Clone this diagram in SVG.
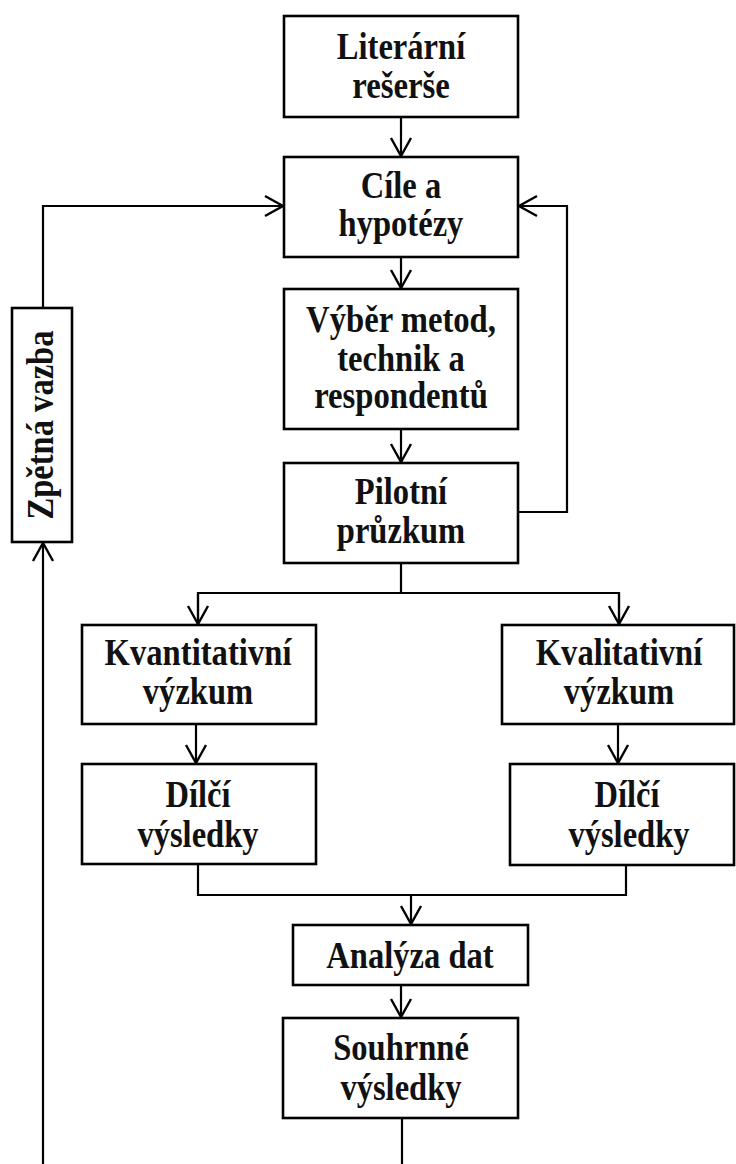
<svg xmlns="http://www.w3.org/2000/svg" width="736" height="1164" viewBox="0 0 736 1164">
<style>
.box{fill:#fff;stroke:#000;stroke-width:2.6}
.ln{fill:none;stroke:#000;stroke-width:2.2}
.t{font-family:"Liberation Serif","Times New Roman",serif;font-weight:bold;font-size:37px;text-anchor:middle;fill:#111}
</style>
<defs>
<marker id="ah" markerUnits="userSpaceOnUse" markerWidth="24" markerHeight="24" viewBox="-20 -12 24 24" refX="0" refY="0" orient="auto">
<path d="M-18,-10 L0,0 L-18,10" fill="none" stroke="#000" stroke-width="2.4"/>
</marker>
</defs>
<rect width="736" height="1164" fill="#fff"/>
<g id="connectors">
<line class="ln" x1="401" y1="117" x2="401" y2="156" marker-end="url(#ah)"/>
<line class="ln" x1="401" y1="257" x2="401" y2="288" marker-end="url(#ah)"/>
<line class="ln" x1="401" y1="429" x2="401" y2="462" marker-end="url(#ah)"/>
<polyline class="ln" points="43,308 43,206 283,206" marker-end="url(#ah)"/>
<polyline class="ln" points="518,512 567,512 567,206 519,206" marker-end="url(#ah)"/>
<polyline class="ln" points="401,563 401,593"/>
<polyline class="ln" points="198,624 198,593 619,593 619,624"/>
<line class="ln" x1="198" y1="593" x2="198" y2="624" marker-end="url(#ah)"/>
<line class="ln" x1="619" y1="593" x2="619" y2="624" marker-end="url(#ah)"/>
<line class="ln" x1="196" y1="724" x2="196" y2="763" marker-end="url(#ah)"/>
<line class="ln" x1="618" y1="724" x2="618" y2="763" marker-end="url(#ah)"/>
<polyline class="ln" points="198,864 198,895 626,895 626,865"/>
<line class="ln" x1="411" y1="895" x2="411" y2="924" stroke-width="2.6" marker-end="url(#ah)"/>
<line class="ln" x1="401" y1="985" x2="401" y2="1017" marker-end="url(#ah)"/>
<line class="ln" x1="402" y1="1118" x2="402" y2="1164"/>
<line class="ln" x1="43" y1="1164" x2="43" y2="543" marker-end="url(#ah)"/>
</g>
<g id="n-literarni">
<rect class="box" x="284" y="16" width="234" height="101"/>
<text class="t" x="401" y="59" textLength="128.4" lengthAdjust="spacingAndGlyphs">Literární</text>
<text class="t" x="401" y="98" textLength="97.6" lengthAdjust="spacingAndGlyphs">rešerše</text>
</g>
<g id="n-cile">
<rect class="box" x="284" y="157" width="234" height="100"/>
<text class="t" x="401" y="198" textLength="80.5" lengthAdjust="spacingAndGlyphs">Cíle a</text>
<text class="t" x="401" y="236" textLength="124.8" lengthAdjust="spacingAndGlyphs">hypotézy</text>
</g>
<g id="n-vyber">
<rect class="box" x="284" y="289" width="234" height="140"/>
<text class="t" x="401" y="332" textLength="189.9" lengthAdjust="spacingAndGlyphs">Výběr metod,</text>
<text class="t" x="401" y="371" textLength="127.5" lengthAdjust="spacingAndGlyphs">technik a</text>
<text class="t" x="401" y="408" textLength="173.7" lengthAdjust="spacingAndGlyphs">respondentů</text>
</g>
<g id="n-pilotni">
<rect class="box" x="284" y="463" width="234" height="100"/>
<text class="t" x="401" y="504" textLength="92.3" lengthAdjust="spacingAndGlyphs">Pilotní</text>
<text class="t" x="401" y="543" textLength="128.4" lengthAdjust="spacingAndGlyphs">průzkum</text>
</g>
<g id="n-kvanti">
<rect class="box" x="82" y="625" width="234" height="99"/>
<text class="t" x="198" y="665" textLength="187" lengthAdjust="spacingAndGlyphs">Kvantitativní</text>
<text class="t" x="198" y="704" textLength="110.3" lengthAdjust="spacingAndGlyphs">výzkum</text>
</g>
<g id="n-kvali">
<rect class="box" x="502" y="625" width="232" height="99"/>
<text class="t" x="619" y="665" textLength="166.4" lengthAdjust="spacingAndGlyphs">Kvalitativní</text>
<text class="t" x="619" y="704" textLength="110.3" lengthAdjust="spacingAndGlyphs">výzkum</text>
</g>
<g id="n-dilci-l">
<rect class="box" x="82" y="764" width="234" height="100"/>
<text class="t" x="198" y="807" textLength="65.1" lengthAdjust="spacingAndGlyphs">Dílčí</text>
<text class="t" x="198" y="847" textLength="121.2" lengthAdjust="spacingAndGlyphs">výsledky</text>
</g>
<g id="n-dilci-r">
<rect class="box" x="510" y="764" width="224" height="101"/>
<text class="t" x="627" y="807" textLength="65.1" lengthAdjust="spacingAndGlyphs">Dílčí</text>
<text class="t" x="629" y="847" textLength="121.2" lengthAdjust="spacingAndGlyphs">výsledky</text>
</g>
<g id="n-analyza">
<rect class="box" x="293" y="925" width="235" height="60"/>
<text class="t" x="410" y="968" textLength="167.3" lengthAdjust="spacingAndGlyphs">Analýza dat</text>
</g>
<g id="n-souhrnne">
<rect class="box" x="283" y="1018" width="235" height="100"/>
<text class="t" x="401" y="1060" textLength="135.7" lengthAdjust="spacingAndGlyphs">Souhrnné</text>
<text class="t" x="401" y="1100" textLength="121.2" lengthAdjust="spacingAndGlyphs">výsledky</text>
</g>
<g id="n-zpetna">
<rect class="box" x="12" y="308" width="60" height="234"/>
<text class="t" transform="translate(53,425) rotate(-90)" x="0" y="0" textLength="189" lengthAdjust="spacingAndGlyphs">Zpětná vazba</text>
</g>
</svg>
